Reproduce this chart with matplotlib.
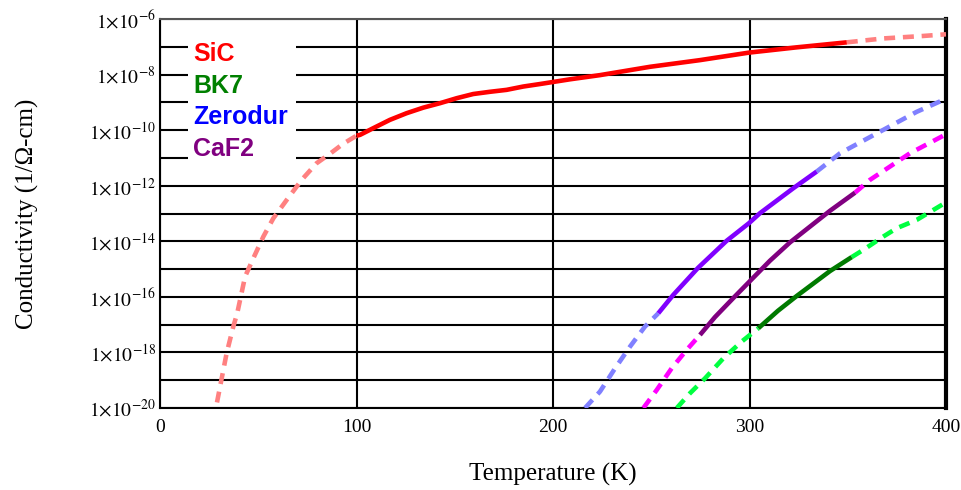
import matplotlib
matplotlib.use("Agg")
import matplotlib.pyplot as plt
import numpy as np
from matplotlib.patches import Rectangle

plt.rcParams['mathtext.fontset'] = 'stix'
plt.rcParams['font.family'] = ['Liberation Serif', 'DejaVu Serif']

# ---- data (temperature in K, log10 conductivity in 1/(Ohm-cm)) ----
sic_T_low = [29.0, 33.9, 37.3, 39.3, 43.3, 47.5, 52.6, 57.7, 64.5, 72.1, 79.7, 86.5, 93.0, 100.0]
sic_log_low = [-19.8, -18.03, -17.07, -16.59, -15.27, -14.61, -13.83, -13.17, -12.51, -11.79,
               -11.19, -10.85, -10.5, -10.2]
sic_T_meas = [100.0, 101.8, 108.5, 117.0, 125.5, 134.0, 142.5, 151.0, 159.4, 167.9, 176.4, 184.9,
              193.4, 208.7, 223.9, 249.4, 274.8, 299.7, 324.0, 349.5]
sic_log_meas = [-10.2, -10.17, -9.93, -9.63, -9.39, -9.19, -9.03, -8.85, -8.70, -8.62, -8.55, -8.43,
                -8.34, -8.17, -8.02, -7.72, -7.48, -7.21, -7.02, -6.84]
sic_T_high = [349.5, 368.0, 388.5, 400.0]
sic_log_high = [-6.84, -6.70, -6.61, -6.55]

zer_T_low = [216.3, 223.9, 231.6, 239.2, 246.8, 253.6]
zer_log_low = [-20.0, -19.41, -18.57, -17.79, -17.07, -16.59]
zer_T_meas = [253.6, 261.2, 273.9, 288.4, 299.7, 305.3, 312.1, 322.3, 334.2]
zer_log_meas = [-16.59, -15.93, -14.95, -13.98, -13.35, -12.99, -12.63, -12.09, -11.49]
zer_T_high = [334.2, 346.1, 368.1, 385.1, 400.0]
zer_log_high = [-11.49, -10.83, -9.99, -9.34, -8.87]

caf_T_low = [246.0, 252.8, 260.4, 268.0, 274.8]
caf_log_low = [-20.0, -19.35, -18.57, -17.91, -17.37]
caf_T_meas = [274.8, 282.4, 291.8, 299.7, 310.4, 320.6, 330.8, 341.0, 353.7]
caf_log_meas = [-17.37, -16.73, -16.04, -15.47, -14.70, -14.04, -13.47, -12.90, -12.25]
caf_T_high = [353.7, 361.3, 381.7, 400.0]
caf_log_high = [-12.25, -11.79, -10.83, -10.15]

bk7_T_low = [263.0, 269.7, 277.4, 286.7, 296.0, 304.5]
bk7_log_low = [-20.0, -19.47, -18.93, -18.21, -17.61, -17.13]
bk7_T_meas = [304.5, 314.5, 324.0, 329.1, 341.0, 352.0]
bk7_log_meas = [-17.13, -16.50, -15.97, -15.70, -15.07, -14.57]
bk7_T_high = [352.0, 357.9, 368.1, 374.9, 385.1, 400.0]
bk7_log_high = [-14.57, -14.31, -13.83, -13.53, -13.23, -12.6]

legend_names = ["SiC", "BK7", "Zerodur", "CaF2"]
legend_colors = ["#FF0000", "#008000", "#0000FF", "#800080"]

x_ticks = [0, 100, 200, 300, 400]
y_exponents = list(range(-20, -5))

# ---- figure ----
fig = plt.figure(figsize=(9.61, 4.90), dpi=100)
ax = fig.add_axes([160/961, 1-408/490, 786/961, 389/490])
ax.set_yscale('log')
ax.set_xlim(0, 400)
ax.set_ylim(1e-20, 1e-6)

lw = 3.3
dash = (2.4, 1.7)

def draw(T, lg, color, dashed):
    y = 10.0 ** np.array(lg)
    if dashed:
        ax.plot(T, y, color=color, lw=lw, linestyle=(0, dash), solid_capstyle='butt',
                solid_joinstyle='round', zorder=3)
    else:
        ax.plot(T, y, color=color, lw=lw, solid_capstyle='butt', solid_joinstyle='round', zorder=4)

draw(sic_T_low, sic_log_low, '#FF8080', True)
draw(sic_T_meas, sic_log_meas, '#FF0000', False)
draw(sic_T_high, sic_log_high, '#FF8080', True)

draw(zer_T_low, zer_log_low, '#8080FF', True)
draw(zer_T_meas, zer_log_meas, '#8000FF', False)
draw(zer_T_high, zer_log_high, '#8080FF', True)

draw(caf_T_low, caf_log_low, '#FF00FF', True)
draw(caf_T_meas, caf_log_meas, '#800080', False)
draw(caf_T_high, caf_log_high, '#FF00FF', True)

draw(bk7_T_low, bk7_log_low, '#00FF40', True)
draw(bk7_T_meas, bk7_log_meas, '#007A00', False)
draw(bk7_T_high, bk7_log_high, '#00FF40', True)

# grid
ax.set_xticks(x_ticks)
ax.set_xticklabels([str(v) for v in x_ticks])
ax.set_yticks([10.0 ** e for e in y_exponents])
ax.set_yticklabels([r'$1{\times}10^{%d}$' % e if e % 2 == 0 else '' for e in y_exponents])
ax.yaxis.set_minor_locator(matplotlib.ticker.NullLocator())
ax.grid(True, which='major', color='black', lw=1.5, zorder=1)
ax.set_axisbelow(True)
ax.tick_params(axis='both', length=0, labelsize=14)
ax.tick_params(axis='y', pad=3)
ax.tick_params(axis='x', pad=8)
for s in ['left', 'bottom', 'top']:
    ax.spines[s].set_linewidth(1.5)
    ax.spines[s].set_color('black')
ax.spines['top'].set_color('#555555')
ax.spines['right'].set_linewidth(3)

ax.set_xlabel('Temperature (K)', fontsize=18, labelpad=19)
ax.set_ylabel('Conductivity (1/Ω-cm)', fontsize=18, labelpad=36)

# legend box
ax.add_patch(Rectangle((0.0356, 0.607), 0.137, 0.345, transform=ax.transAxes,
                       facecolor='white', edgecolor='none', zorder=2))
y0 = (408 - 54) / 389
dy = 31.7 / 389
for i, (name, c) in enumerate(zip(legend_names, legend_colors)):
    ax.text((193 - 160) / 786, y0 - i * dy, name, transform=ax.transAxes, color=c,
            fontsize=18, fontweight='bold', family=['Liberation Sans', 'DejaVu Sans'],
            va='center', ha='left', zorder=5)

fig.savefig('out.png', dpi=100)
